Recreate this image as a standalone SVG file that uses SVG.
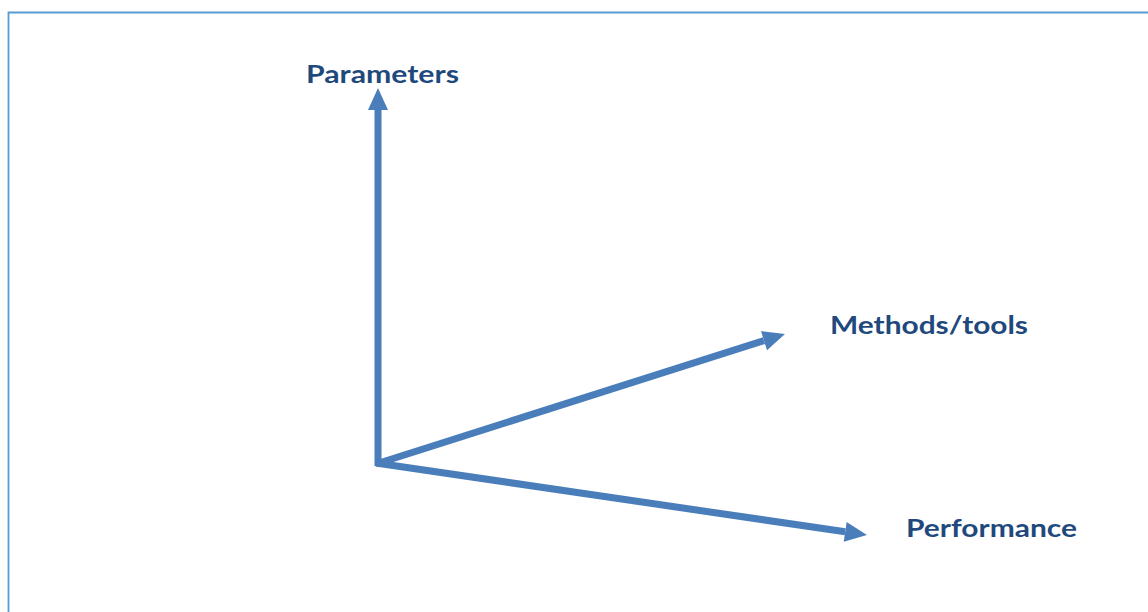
<svg xmlns="http://www.w3.org/2000/svg" width="1148" height="612" viewBox="0 0 1148 612">
<style>
.axis{stroke:#4a7ebb;stroke-width:7;fill:none;marker-end:url(#head)}
.lbl{font-family:Lato,"Open Sans","Liberation Sans",sans-serif;font-weight:bold;font-size:25px;fill:#1f497d}
</style>
<defs>
<marker id="head" markerUnits="userSpaceOnUse" markerWidth="22" markerHeight="20" refX="0" refY="10" orient="auto" overflow="visible">
<path d="M0,0 L22,10 L0,20 z" fill="#4a7ebb"/>
</marker>
</defs>
<rect x="0" y="0" width="1148" height="612" fill="#ffffff"/>
<path d="M8.5,620 L8.5,12.5 L1160,12.5" fill="none" stroke="#5b9bd5" stroke-width="1.8"/>
<g id="connectors">
<line class="axis" x1="378" y1="466" x2="378" y2="110"/>
<line class="axis" x1="376" y1="464" x2="764" y2="340.6"/>
<line class="axis" x1="376" y1="463" x2="845.2" y2="531.8"/>
</g>
<g id="parameters"><text class="lbl" x="306" y="83" textLength="153" lengthAdjust="spacingAndGlyphs">Parameters</text></g>
<g id="methods"><text class="lbl" x="830" y="334" textLength="198" lengthAdjust="spacingAndGlyphs">Methods/tools</text></g>
<g id="performance"><text class="lbl" x="906" y="537" textLength="171" lengthAdjust="spacingAndGlyphs">Performance</text></g>
</svg>
